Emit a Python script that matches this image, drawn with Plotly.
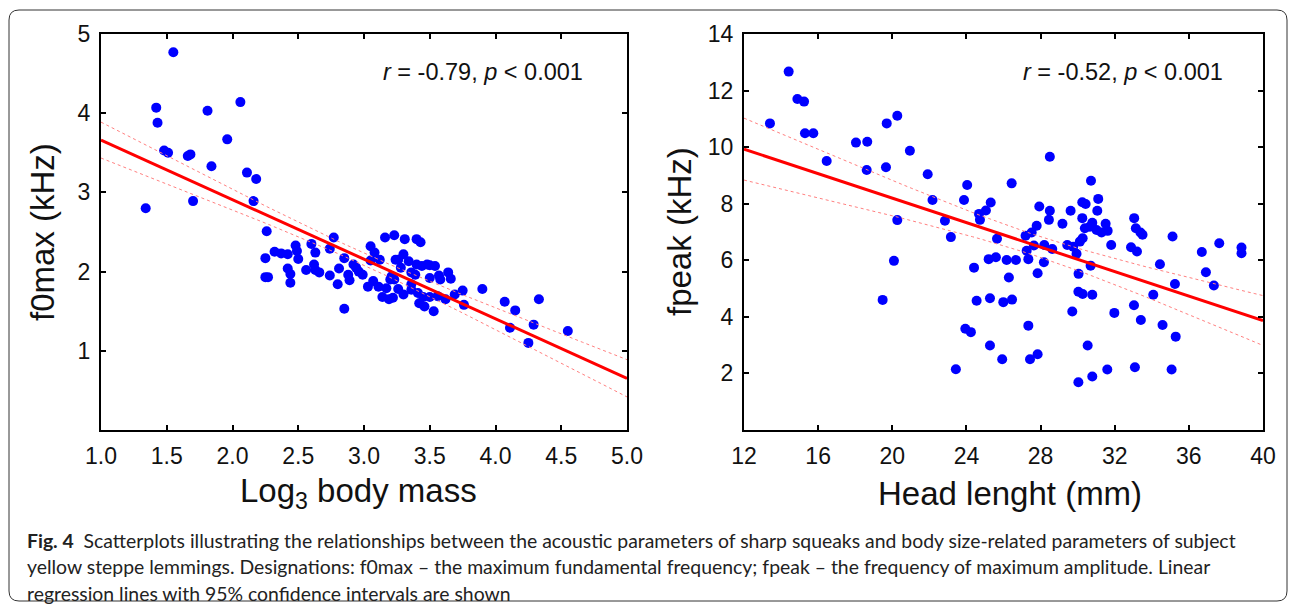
import numpy as np
import plotly.graph_objects as go

# ---------------- data ----------------
mass_x = [1.55, 1.42, 1.43, 1.81, 2.06, 1.96, 1.48, 1.51, 1.66, 1.68, 1.84, 2.11, 2.18, 1.34, 1.70, 2.16,
          2.26, 2.77, 2.60, 2.48, 3.16, 3.23, 2.32, 2.37, 2.42, 2.49, 2.50, 2.63, 2.25, 2.74, 2.85, 3.05, 3.08, 3.12, 3.05, 3.24,
          2.42, 2.44, 2.44, 2.25, 2.27, 2.56, 2.62, 2.63, 2.66, 2.74, 2.81, 2.80, 2.88, 2.89, 2.92, 2.94, 2.96, 2.99, 2.85, 3.03,
          3.07, 3.11, 3.17, 3.14, 3.19, 3.22, 3.20,
          3.31, 3.40, 3.43, 3.30, 3.26, 3.34, 3.28, 3.40, 3.44, 3.48, 3.50, 3.54, 3.36, 3.39, 3.21, 3.23, 3.26, 3.30, 3.36, 3.36,
          3.41, 3.45, 3.50, 3.42, 3.46, 3.53, 3.50, 3.57, 3.58, 3.64, 3.66, 3.56, 3.62, 3.69, 3.75, 3.76, 3.90,
          4.07, 4.15, 4.11, 4.29, 4.33, 4.25, 4.55]
f0max = [4.77, 4.07, 3.88, 4.03, 4.14, 3.67, 3.53, 3.50, 3.46, 3.48, 3.33, 3.25, 3.17, 2.80, 2.89, 2.89,
         2.51, 2.43, 2.35, 2.33, 2.43, 2.46, 2.25, 2.23, 2.22, 2.26, 2.16, 2.24, 2.17, 2.29, 2.17, 2.32, 2.24, 2.15, 2.14, 2.15,
         2.04, 1.97, 1.86, 1.93, 1.93, 2.02, 2.09, 2.02, 1.99, 1.95, 2.04, 1.84, 1.96, 1.89, 2.09, 2.05, 2.00, 1.96, 1.53, 1.81,
         1.88, 1.81, 1.79, 1.68, 1.65, 1.67, 1.90,
         2.41, 2.41, 2.37, 2.22, 2.15, 2.13, 2.05, 2.09, 2.07, 2.09, 2.08, 2.07, 1.99, 1.96, 1.94, 1.90, 1.78, 1.71, 1.84, 1.77,
         1.73, 1.68, 1.68, 1.60, 1.56, 1.50, 1.92, 1.95, 1.90, 1.99, 1.91, 1.69, 1.65, 1.71, 1.76, 1.58, 1.78,
         1.62, 1.51, 1.29, 1.33, 1.65, 1.10, 1.25]

head_x = [14.41, 14.88, 15.24, 13.40, 15.29, 15.74, 16.46, 18.04, 18.65, 18.62, 19.70, 20.27, 19.66, 20.95, 21.91, 20.27,
          28.50, 24.04, 26.44, 22.17, 23.87, 25.31, 25.05, 24.68, 24.73, 27.93, 28.50, 28.45, 29.62, 29.18, 27.79, 27.52, 27.19,
          22.84, 23.16, 25.65, 27.64, 28.20, 28.63, 27.25, 27.34, 29.44, 29.76, 29.94, 20.09, 24.41, 25.20, 25.59, 26.17, 26.67,
          28.18, 26.29, 27.84, 30.05,
          19.48, 24.55, 25.27, 25.99, 26.46, 30.04, 29.71, 23.94, 24.24, 27.34, 25.27, 25.93, 27.43, 27.84, 23.43, 30.04,
          30.72, 30.25, 30.43, 31.11, 31.06, 30.25, 30.79, 31.51, 30.39, 30.66, 31.02, 31.29, 31.62, 33.05, 33.14, 33.50, 33.39,
          35.12, 37.64, 38.84, 38.84, 36.70, 30.27, 30.12, 31.81, 32.88, 33.20, 34.44, 30.70, 36.92, 37.35, 35.25, 34.08, 30.27,
          30.79, 33.04, 31.98, 33.41, 34.58, 35.29, 30.54, 31.60, 33.09, 35.07, 30.79]
fpeak = [12.67, 11.70, 11.61, 10.84, 10.49, 10.49, 9.51, 10.16, 10.19, 9.19, 10.84, 11.11, 9.29, 9.87, 9.04, 7.42,
         9.66, 8.66, 8.72, 8.13, 8.13, 8.04, 7.76, 7.64, 7.43, 7.90, 7.75, 7.43, 7.75, 7.29, 7.22, 6.98, 6.87,
         7.40, 6.82, 6.76, 6.52, 6.54, 6.40, 6.34, 6.04, 6.54, 6.48, 6.23, 5.98, 5.74, 6.04, 6.11, 6.01, 6.01,
         5.93, 5.39, 5.54, 5.52,
         4.60, 4.57, 4.66, 4.52, 4.61, 4.89, 4.19, 3.58, 3.46, 3.69, 2.99, 2.50, 2.50, 2.68, 2.15, 1.69,
         8.81, 8.05, 7.99, 8.17, 7.75, 7.49, 7.33, 7.29, 7.13, 7.19, 7.07, 6.98, 7.04, 7.49, 7.13, 6.90, 6.98,
         6.84, 6.60, 6.45, 6.25, 6.29, 6.78, 6.66, 6.54, 6.46, 6.31, 5.86, 5.81, 5.58, 5.11, 5.16, 4.78, 4.81,
         4.78, 4.41, 4.14, 3.89, 3.71, 3.30, 2.99, 2.14, 2.22, 2.14, 1.89]

left_xticks = [1.0, 1.5, 2.0, 2.5, 3.0, 3.5, 4.0, 4.5, 5.0]
left_yticks = [1, 2, 3, 4, 5]
right_xticks = [12, 16, 20, 24, 28, 32, 36, 40]
right_yticks = [2, 4, 6, 8, 10, 12, 14]
left_stat = "<i>r</i> = -0.79, <i>p</i> &lt; 0.001"
right_stat = "<i>r</i> = -0.52, <i>p</i> &lt; 0.001"
T_CRIT = 1.984  # two-sided 95% t quantile, df ~ 100

caption_lines = [
    "<b>Fig. 4</b>  Scatterplots illustrating the relationships between the acoustic parameters of sharp squeaks and body size-related parameters of subject",
    "yellow steppe lemmings. Designations: f0max \u2013 the maximum fundamental frequency; fpeak \u2013 the frequency of maximum amplitude. Linear",
    "regression lines with 95% confidence intervals are shown",
]

W, H = 1295, 609


def regression(x, y, x0, x1):
    x = np.asarray(x, float)
    y = np.asarray(y, float)
    n = len(x)
    b, a = np.polyfit(x, y, 1)
    resid = y - (a + b * x)
    s = np.sqrt(np.sum(resid ** 2) / (n - 2))
    xm = x.mean()
    sxx = np.sum((x - xm) ** 2)
    gx = np.linspace(x0, x1, 60)
    fit = a + b * gx
    se = s * np.sqrt(1.0 / n + (gx - xm) ** 2 / sxx)
    return gx, fit, fit - T_CRIT * se, fit + T_CRIT * se


def px(v):
    return v / W


def py(v):
    return 1 - v / H


fig = go.Figure()

panels = [
    (mass_x, f0max, "x", "y", 1.0, 5.0),
    (head_x, fpeak, "x2", "y2", 12, 40),
]
for xs, ys, xa, ya, x0, x1 in panels:
    gx, fit, lo, hi = regression(xs, ys, x0, x1)
    fig.add_trace(go.Scatter(x=xs, y=ys, mode="markers", xaxis=xa, yaxis=ya,
                             marker=dict(size=10, color="#0000ff", line=dict(width=0)),
                             showlegend=False))
    for band in (lo, hi):
        fig.add_trace(go.Scatter(x=gx, y=band, mode="lines", xaxis=xa, yaxis=ya,
                                 line=dict(color="#ff8080", width=1, dash="3px,3px"),
                                 showlegend=False))
    fig.add_trace(go.Scatter(x=gx, y=fit, mode="lines", xaxis=xa, yaxis=ya,
                             line=dict(color="#ff0000", width=3), showlegend=False))

axis_common = dict(showline=True, linecolor="black", linewidth=2, mirror="ticks",
                   ticks="inside", ticklen=5, tickwidth=2, tickcolor="black",
                   showgrid=False, zeroline=False, automargin=False, ticklabelstandoff=4,
                   tickfont=dict(family="Liberation Sans, Arial", size=23, color="#111"))

fig.update_layout(
    template="none",
    width=W, height=H,
    paper_bgcolor="white", plot_bgcolor="white",
    margin=dict(l=0, r=0, t=0, b=0, pad=0, autoexpand=False),
    showlegend=False,
    xaxis=dict(domain=[px(101), px(627)], range=[1.0, 5.0], tickvals=left_xticks,
               ticktext=[f"{v:.1f}" for v in left_xticks], anchor="y", **axis_common),
    yaxis=dict(domain=[py(430), py(34)], range=[0, 5], tickvals=left_yticks, anchor="x", **axis_common),
    xaxis2=dict(domain=[px(744), px(1263)], range=[12, 40], tickvals=right_xticks, anchor="y2", **axis_common),
    yaxis2=dict(domain=[py(430), py(34)], range=[0, 14], tickvals=right_yticks, anchor="x2", **axis_common),
)

ann = []
title_font = dict(family="Liberation Sans, Arial", size=33, color="#111")
ann.append(dict(x=px(358), y=py(493), text="Log<sub>3</sub> body mass", font=title_font))
ann.append(dict(x=px(1010), y=py(493), text="Head lenght (mm)", font=title_font))
ann.append(dict(x=px(42), y=py(232), text="f0max (kHz)", textangle=-90, font=title_font))
ann.append(dict(x=px(679), y=py(232), text="fpeak (kHz)", textangle=-90, font=title_font))
stat_font = dict(family="Liberation Sans, Arial", size=23.5, color="#111")
ann.append(dict(x=px(483), y=py(72), text=left_stat, font=stat_font))
ann.append(dict(x=px(1123), y=py(72), text=right_stat, font=stat_font))
for i, line in enumerate(caption_lines):
    ann.append(dict(x=px(25), y=py(540 + 26.5 * i), text=line, xanchor="left",
                    font=dict(family="Lato, Open Sans", size=19.4, color="#222")))
for a in ann:
    a.setdefault("xanchor", "center")
    a.update(xref="paper", yref="paper", yanchor="middle", showarrow=False)
fig.update_layout(annotations=ann)

# outer rounded frame
x0, x1, y0, y1 = px(9), px(1287), py(601), py(10)
rx, ry = 10 / W, 10 / H
path = (f"M {x0+rx},{y1} L {x1-rx},{y1} Q {x1},{y1} {x1},{y1-ry} "
        f"L {x1},{y0+ry} Q {x1},{y0} {x1-rx},{y0} L {x0+rx},{y0} Q {x0},{y0} {x0},{y0+ry} "
        f"L {x0},{y1-ry} Q {x0},{y1} {x0+rx},{y1} Z")
fig.add_shape(type="path", path=path, xref="paper", yref="paper",
              line=dict(color="#333", width=1))

fig.write_html("out.html", config={"displayModeBar": False},
               post_script="document.body.style.margin='0';document.body.style.overflow='hidden';")
